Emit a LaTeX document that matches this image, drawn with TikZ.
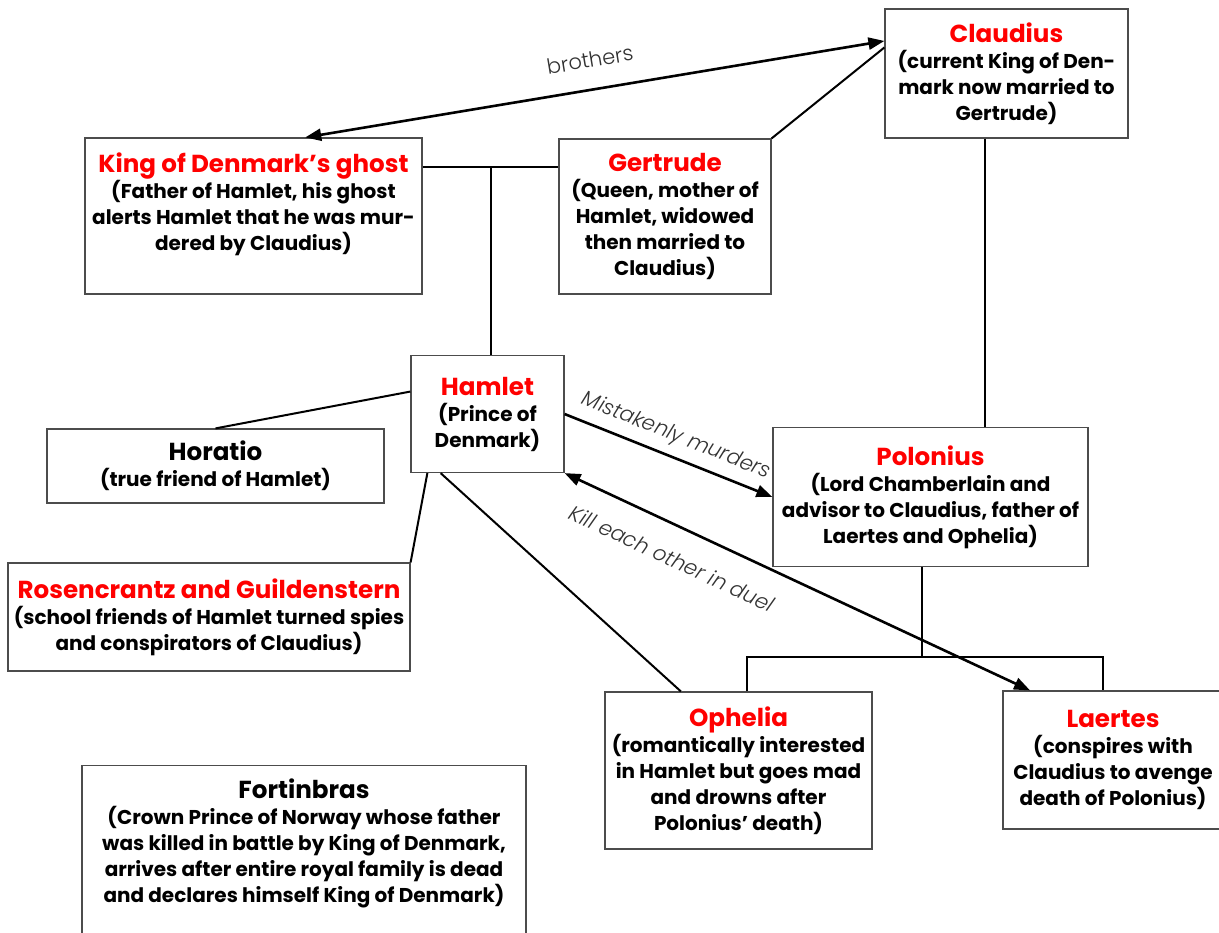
\documentclass[tikz,border=0pt]{standalone}
\usepackage{fontspec}
\setmainfont{Poppins}
\newfontfamily\labelfam{Poppins}[UprightFont=* Light, ItalicFont=* Light Italic]
\usetikzlibrary{calc,arrows.meta}

\definecolor{boxgray}{gray}{0.3}
\definecolor{labelgray}{gray}{0.2}

\newcommand{\descfont}{\fontsize{10}{13}\selectfont\bfseries}
\newcommand{\namefont}{\fontsize{12.3}{14}\selectfont\bfseries}
\newcommand{\labelfont}{\labelfam\fontsize{10.5}{12}\selectfont}
\newcommand{\charname}[1]{{\namefont\textcolor{red}{#1}}}

\tikzset{
  person/.style={draw=boxgray, line width=0.6pt, align=center, inner sep=2pt, font=\descfont},
  link/.style={line width=1pt},
  rel/.style={line width=1.3pt, {Triangle[length=8pt,width=6pt]}-{Triangle[length=8pt,width=6pt]}},
  relto/.style={line width=1.3pt, -{Triangle[length=8pt,width=6pt]}},
  rellabel/.style={font=\labelfont, text=labelgray, sloped}
}

\begin{document}
\begin{tikzpicture}[x=0.5pt, y=-0.5pt]
  \path[use as bounding box, clip] (0,0) rectangle (1219,932);

  % characters
  \node[person, minimum width=121.5pt, minimum height=64.5pt] (claudius) at (1006.5,73.5)
    {\charname{Claudius}\\(current King of Den-\\mark now married to\\Gertrude)};
  \node[person, minimum width=168.5pt, minimum height=78pt, text depth=14pt] (ghost) at (253.5,216)
    {\charname{King of Denmark’s ghost}\\(Father of Hamlet, his ghost\\alerts Hamlet that he was mur-\\dered by Claudius)};
  \node[person, minimum width=106pt, minimum height=77.5pt] (gertrude) at (665,216.5)
    {\charname{Gertrude}\\(Queen, mother of\\Hamlet, widowed\\then married to\\Claudius)};
  \node[person, minimum width=76.5pt, minimum height=58.5pt] (hamlet) at (487.5,414)
    {\charname{Hamlet}\\(Prince of\\Denmark)};
  \node[person, minimum width=168.5pt, minimum height=37pt] (horatio) at (215.5,466)
    {{\namefont Horatio}\\(true friend of Hamlet)};
  \node[person, minimum width=157.5pt, minimum height=69.5pt] (polonius) at (930.5,497)
    {\charname{Polonius}\\(Lord Chamberlain and\\advisor to Claudius, father of\\Laertes and Ophelia)};
  \node[person, minimum width=201pt, minimum height=54pt] (rosguil) at (209,617)
    {\charname{Rosencrantz and Guildenstern}\\(school friends of Hamlet turned spies\\and conspirators of Claudius)};
  \node[person, minimum width=133.5pt, minimum height=78.5pt] (ophelia) at (738.5,770.5)
    {\charname{Ophelia}\\(romantically interested\\in Hamlet but goes mad\\and drowns after\\Polonius’ death)};
  \node[person, minimum width=110pt, minimum height=69pt] (laertes) at (1113,760)
    {\charname{Laertes}\\(conspires with\\Claudius to avenge\\death of Polonius)};
  \node[person, anchor=north, minimum width=222pt, inner ysep=6.5pt, text depth=40pt] (fortinbras) at (304,765)
    {{\namefont Fortinbras}\\(Crown Prince of Norway whose father\\was killed in battle by King of Denmark,\\arrives after entire royal family is dead\\and declares himself King of Denmark)};

  % relations
  \draw[rel] ($(ghost.north west)!0.653!(ghost.north east)$) -- node[rellabel, above=7pt] {brothers}
    ($(claudius.north west)!0.25!(claudius.south west)$);
  \draw[link] (gertrude.north east) -- ($(claudius.north west)!0.3!(claudius.south west)$);

  \coordinate (wed) at ($(ghost.north east)!0.186!(ghost.south east)$);
  \draw[link] (wed) -- (wed -| gertrude.west);
  \coordinate (son) at ($(hamlet.north west)!0.523!(hamlet.north east)$);
  \draw[link] (son) -- (son |- wed);

  \coordinate (cp) at ($(claudius.south west)!0.412!(claudius.south east)$);
  \draw[link] (cp) -- (cp |- polonius.north);

  \draw[link] (horatio.north) -- ($(hamlet.north west)!0.31!(hamlet.south west)$);
  \draw[link] (rosguil.north east) -- ($(hamlet.south west)!0.11!(hamlet.south east)$);
  \draw[link] ($(hamlet.south west)!0.196!(hamlet.south east)$) -- ($(ophelia.north west)!0.285!(ophelia.north east)$);

  \draw[relto] (hamlet.east) -- node[rellabel, above=1pt, font=\labelfont\itshape] {Mistakenly murders} (polonius.west);
  \draw[rel] (hamlet.south east) -- node[rellabel, below=8pt, pos=0.26, font=\labelfont\itshape] {Kill each other in duel}
    ($(laertes.north west)!0.125!(laertes.north east)$);

  % children of Polonius
  \coordinate (pol) at ($(polonius.south west)!0.473!(polonius.south east)$);
  \coordinate (oph) at ($(ophelia.north west)!0.53!(ophelia.north east)$);
  \coordinate (lae) at ($(laertes.north west)!0.455!(laertes.north east)$);
  \coordinate (bar) at ($(ophelia.north)+(0,-34)$);
  \draw[link] (pol) -- (pol |- bar);
  \draw[link] (oph) -- (oph |- bar) -- (lae |- bar) -- (lae);
\end{tikzpicture}
\end{document}
